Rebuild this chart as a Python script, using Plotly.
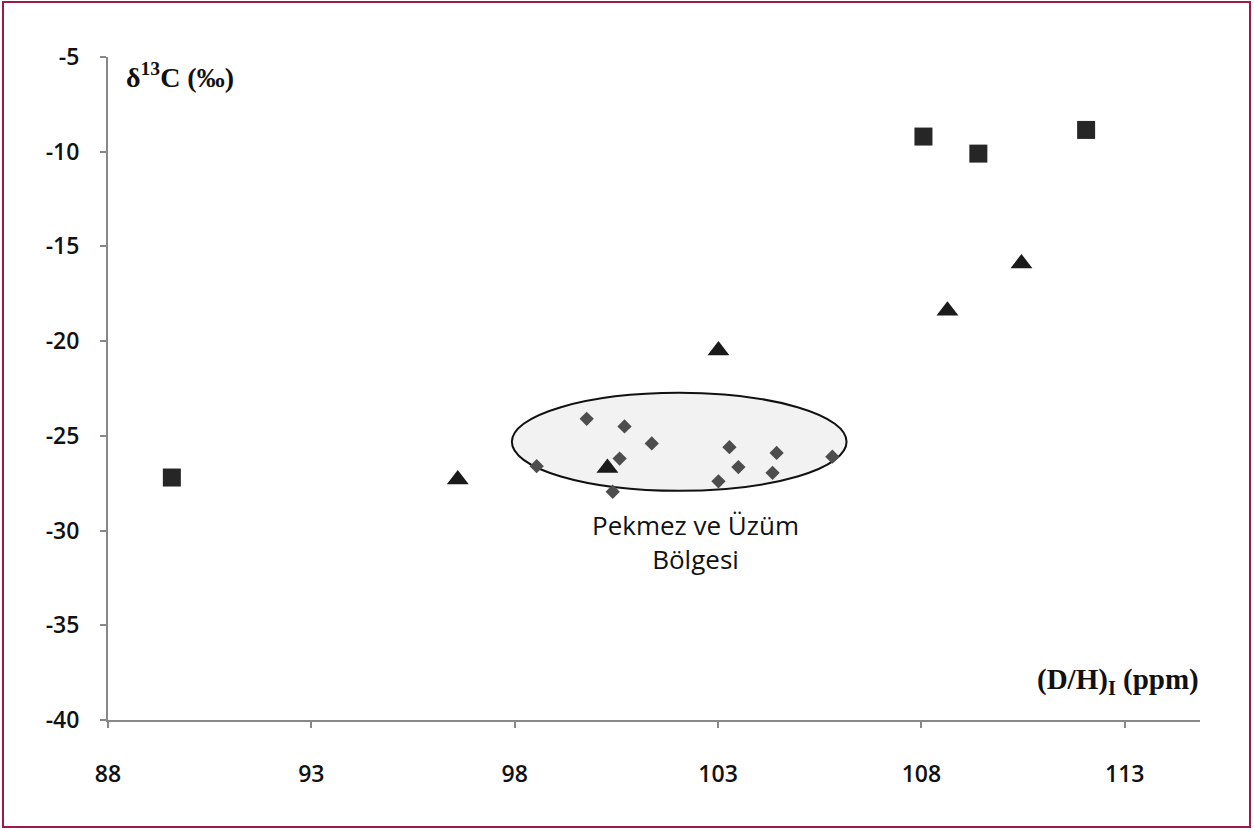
import plotly.graph_objects as go

# Data
square_x = [89.57, 108.05, 109.4, 112.05]
square_y = [-27.2, -9.2, -10.1, -8.85]

triangle_x = [96.6, 100.28, 103.01, 108.64, 110.46]
triangle_y = [-27.3, -26.7, -20.5, -18.4, -15.9]

diamond_x = [98.54, 99.77, 100.41, 100.58, 100.7, 101.37, 103.01, 103.28, 103.5, 104.34, 104.44, 105.81]
diamond_y = [-26.6, -24.1, -27.95, -26.2, -24.5, -25.4, -27.4, -25.6, -26.65, -26.95, -25.9, -26.1]

ellipse_x = [97.93, 106.16]
ellipse_y = [-27.9, -22.73]

x_ticks = [88, 93, 98, 103, 108, 113]
y_ticks = [-40, -35, -30, -25, -20, -15, -10, -5]
x_labels = [str(v) for v in x_ticks]
y_labels = [str(v) for v in y_ticks]

W, H = 1254, 830
L, R, T, B = 108, 54, 57, 110
pw, ph = W - L - R, H - T - B

def px_x(p):
    return (p - L) / pw

def px_y(p):
    return (H - B - p) / ph

fig = go.Figure()

fig.add_shape(type="circle", xref="x", yref="y",
              x0=ellipse_x[0], x1=ellipse_x[1], y0=ellipse_y[0], y1=ellipse_y[1],
              fillcolor="#f2f2f2", line=dict(color="#111111", width=2), layer="below")

fig.add_trace(go.Scatter(x=diamond_x, y=diamond_y, mode="markers",
                         marker=dict(symbol="diamond", size=11, color="#4d4d4d")))
fig.add_trace(go.Scatter(x=square_x, y=square_y, mode="markers",
                         marker=dict(symbol="square", size=18, color="#262626")))
fig.add_trace(go.Scatter(x=triangle_x, y=triangle_y, mode="markers",
                         marker=dict(symbol="triangle-up", size=19, color="#1a1a1a")))

# frame
fig.add_shape(type="rect", xref="paper", yref="paper",
              x0=px_x(3), x1=px_x(1250), y0=px_y(827), y1=px_y(2),
              line=dict(color="#9b1b44", width=2), fillcolor="rgba(0,0,0,0)")

fig.add_annotation(x=102.45, y=-30.6, xref="x", yref="y",
                   text="Pekmez ve Üzüm<br>Bölgesi", showarrow=False,
                   font=dict(family="Open Sans", size=26, color="#111111"), align="center")

fig.add_annotation(x=px_x(124), y=px_y(75), xref="paper", yref="paper",
                   xanchor="left", yanchor="middle",
                   text="<b>δ<sup>13</sup>C (‰)</b>", showarrow=False,
                   font=dict(family="Liberation Serif", size=28, color="#111111"))

fig.add_annotation(x=px_x(1201), y=px_y(681), xref="paper", yref="paper",
                   xanchor="right", yanchor="middle",
                   text="<b>(D/H)<sub>I</sub> (ppm)</b>", showarrow=False,
                   font=dict(family="Liberation Serif", size=29, color="#111111"))

fig.update_layout(
    width=W, height=H,
    margin=dict(l=L, r=R, t=T, b=B),
    paper_bgcolor="white", plot_bgcolor="white",
    showlegend=False,
    font=dict(family="Open Sans", size=23, color="#111111"),
    xaxis=dict(range=[88, 114.85], tickvals=x_ticks, ticktext=x_labels,
               showgrid=False, zeroline=False,
               showline=True, linecolor="#888888", linewidth=2,
               ticks="outside", ticklen=6, tickcolor="#888888", tickwidth=2,
               ticklabelstandoff=26, tickfont=dict(weight=600)),
    yaxis=dict(range=[-40, -5], tickvals=y_ticks, ticktext=y_labels,
               showgrid=False, zeroline=False,
               showline=True, linecolor="#888888", linewidth=2,
               ticks="outside", ticklen=6, tickcolor="#888888", tickwidth=2,
               ticklabelstandoff=16, tickfont=dict(weight=600)),
)

fig.write_html("out.html", config={"displayModeBar": False},
               post_script="document.body.style.margin='0';")
